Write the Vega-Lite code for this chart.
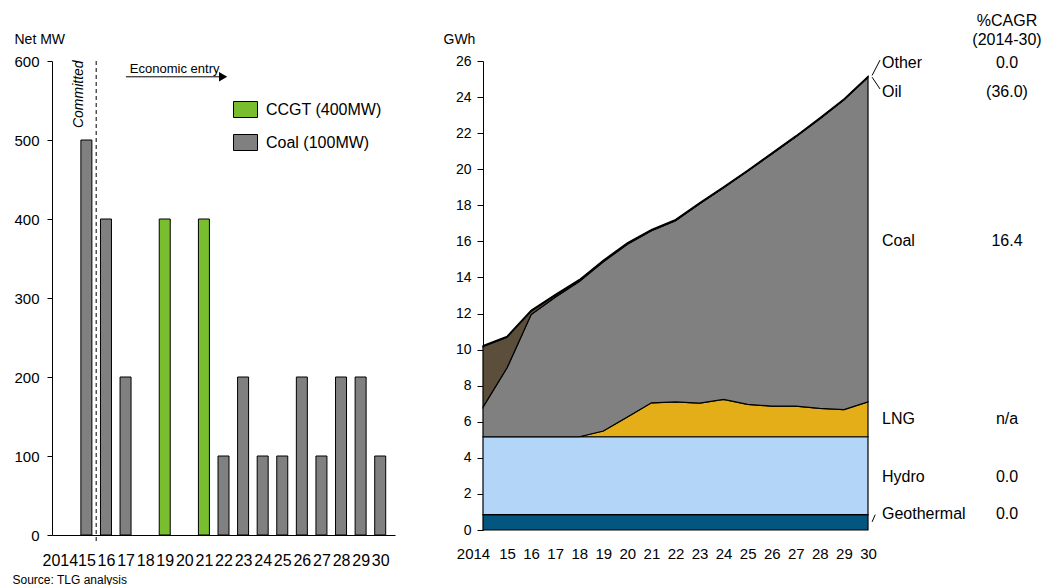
{
  "$schema": "https://vega.github.io/schema/vega-lite/v6.json",
  "padding": {"left": 12, "top": 13, "right": 0, "bottom": 0},
  "background": "white",
  "spacing": 48,
  "resolve": {"scale": {"color": "independent"}},
  "config": {
    "font": "Liberation Sans",
    "view": {"stroke": null},
    "axis": {
      "labelColor": "black", "titleColor": "black", "domainColor": "black", "tickColor": "black",
      "labelFont": "Liberation Sans", "titleFont": "Liberation Sans",
      "labelFontSize": 14, "titleFontSize": 14, "titleFontWeight": "normal", "grid": false,
      "labelOverlap": false, "labelFlush": false
    },
    "text": {"font": "Liberation Sans", "color": "black"}
  },
  "datasets": {
    "bars": [
      {"year": 2015, "type": "Coal (100MW)", "mw": 500},
      {"year": 2016, "type": "Coal (100MW)", "mw": 400},
      {"year": 2017, "type": "Coal (100MW)", "mw": 200},
      {"year": 2019, "type": "CCGT (400MW)", "mw": 400},
      {"year": 2021, "type": "CCGT (400MW)", "mw": 400},
      {"year": 2022, "type": "Coal (100MW)", "mw": 100},
      {"year": 2023, "type": "Coal (100MW)", "mw": 200},
      {"year": 2024, "type": "Coal (100MW)", "mw": 100},
      {"year": 2025, "type": "Coal (100MW)", "mw": 100},
      {"year": 2026, "type": "Coal (100MW)", "mw": 200},
      {"year": 2027, "type": "Coal (100MW)", "mw": 100},
      {"year": 2028, "type": "Coal (100MW)", "mw": 200},
      {"year": 2029, "type": "Coal (100MW)", "mw": 200},
      {"year": 2030, "type": "Coal (100MW)", "mw": 100}
    ],
    "energy": [
      {"year": 2014, "Geothermal": 0.85, "Hydro": 4.32, "LNG": 0, "Coal": 1.64, "Oil": 3.36, "Other": 0.05},
      {"year": 2015, "Geothermal": 0.85, "Hydro": 4.32, "LNG": 0, "Coal": 3.82, "Oil": 1.70, "Other": 0.05},
      {"year": 2016, "Geothermal": 0.85, "Hydro": 4.32, "LNG": 0, "Coal": 6.77, "Oil": 0.19, "Other": 0.05},
      {"year": 2017, "Geothermal": 0.85, "Hydro": 4.32, "LNG": 0, "Coal": 7.73, "Oil": 0.10, "Other": 0.05},
      {"year": 2018, "Geothermal": 0.85, "Hydro": 4.32, "LNG": 0, "Coal": 8.60, "Oil": 0.06, "Other": 0.05},
      {"year": 2019, "Geothermal": 0.85, "Hydro": 4.32, "LNG": 0.32, "Coal": 9.38, "Oil": 0.04, "Other": 0.05},
      {"year": 2020, "Geothermal": 0.85, "Hydro": 4.32, "LNG": 1.09, "Coal": 9.58, "Oil": 0.03, "Other": 0.05},
      {"year": 2021, "Geothermal": 0.85, "Hydro": 4.32, "LNG": 1.88, "Coal": 9.54, "Oil": 0.02, "Other": 0.05},
      {"year": 2022, "Geothermal": 0.85, "Hydro": 4.32, "LNG": 1.93, "Coal": 10.05, "Oil": 0.01, "Other": 0.05},
      {"year": 2023, "Geothermal": 0.85, "Hydro": 4.32, "LNG": 1.86, "Coal": 11.05, "Oil": 0.01, "Other": 0.05},
      {"year": 2024, "Geothermal": 0.85, "Hydro": 4.32, "LNG": 2.07, "Coal": 11.73, "Oil": 0.01, "Other": 0.05},
      {"year": 2025, "Geothermal": 0.85, "Hydro": 4.32, "LNG": 1.79, "Coal": 12.94, "Oil": 0, "Other": 0.05},
      {"year": 2026, "Geothermal": 0.85, "Hydro": 4.32, "LNG": 1.70, "Coal": 13.98, "Oil": 0, "Other": 0.05},
      {"year": 2027, "Geothermal": 0.85, "Hydro": 4.32, "LNG": 1.70, "Coal": 14.93, "Oil": 0, "Other": 0.05},
      {"year": 2028, "Geothermal": 0.85, "Hydro": 4.32, "LNG": 1.57, "Coal": 16.06, "Oil": 0, "Other": 0.05},
      {"year": 2029, "Geothermal": 0.85, "Hydro": 4.32, "LNG": 1.50, "Coal": 17.18, "Oil": 0, "Other": 0.05},
      {"year": 2030, "Geothermal": 0.85, "Hydro": 4.32, "LNG": 1.93, "Coal": 18.00, "Oil": 0, "Other": 0.05}
    ],
    "labels": [
      {"label": "Other", "cagr": "0.0", "gy": 25.89},
      {"label": "Oil", "cagr": "(36.0)", "gy": 24.28},
      {"label": "Coal", "cagr": "16.4", "gy": 16.02},
      {"label": "LNG", "cagr": "n/a", "gy": 6.15},
      {"label": "Hydro", "cagr": "0.0", "gy": 2.94},
      {"label": "Geothermal", "cagr": "0.0", "gy": 0.89}
    ],
    "header": [
      {"text": "%CAGR", "gy": 28.2},
      {"text": "(2014-30)", "gy": 27.15}
    ],
    "leaders": [
      {"x1": 2030.17, "y1": 25.2, "x2": 2030.5, "y2": 26.05},
      {"x1": 2030.17, "y1": 25.1, "x2": 2030.5, "y2": 24.45},
      {"x1": 2030.17, "y1": 0.45, "x2": 2030.3, "y2": 0.85}
    ]
  },
  "hconcat": [
    {
      "width": 343,
      "height": 474,
      "resolve": {"axis": {"x": "independent", "y": "independent"}},
      "layer": [
        {
          "data": {"name": "bars"},
          "mark": {"type": "bar", "width": 11, "stroke": "black", "strokeWidth": 1},
          "encoding": {
            "x": {
              "field": "year", "type": "quantitative",
              "scale": {"domain": [2013.5, 2030.5], "nice": false, "zero": false},
              "axis": {
                "orient": "bottom",
                "values": [2014, 2015, 2016, 2017, 2018, 2019, 2020, 2021, 2022, 2023, 2024, 2025, 2026, 2027, 2028, 2029, 2030],
                "labelExpr": "datum.value == 2014 ? '2014' : substring(toString(datum.value), 2)",
                "ticks": false, "domain": true, "labelPadding": 17,
                "labelFontSize": 16,
                "labelOffset": {"condition": {"test": "datum.value == 2014", "value": -7}, "value": 0},
                "title": "Source: TLG analysis", "titleX": -40, "titleY": 48, "titleAlign": "left",
                "titleBaseline": "alphabetic", "titleFontSize": 12
              }
            },
            "y": {
              "field": "mw", "type": "quantitative",
              "scale": {"domain": [0, 600], "nice": false},
              "axis": {
                "orient": "left",
                "values": [0, 100, 200, 300, 400, 500, 600],
                "labelFontSize": 15,
                "title": "Net MW", "titleAngle": 0, "titleX": -38, "titleY": -18, "titleAlign": "left",
                "titleBaseline": "alphabetic", "tickSize": 5, "labelPadding": 8
              }
            },
            "color": {
              "field": "type", "type": "nominal",
              "scale": {"domain": ["CCGT (400MW)", "Coal (100MW)"], "range": ["#78BE2E", "#808080"]},
              "legend": {
                "orient": "none", "legendX": 185, "legendY": 40, "title": null, "padding": 0,
                "symbolType": "M-1.5,-1H1.5V1H-1.5Z", "symbolSize": 256,
                "symbolStrokeColor": "black", "symbolStrokeWidth": 1, "symbolOpacity": 1,
                "labelFontSize": 16, "labelOffset": 12, "rowPadding": 12, "labelColor": "black",
                "labelFont": "Liberation Sans"
              }
            }
          }
        },
        {
          "data": {"values": [{}]},
          "mark": {"type": "rule", "color": "black", "strokeWidth": 1, "strokeDash": [4, 3]},
          "encoding": {
            "x": {"datum": 2015.5, "type": "quantitative", "axis": null},
            "y": {"datum": 600, "type": "quantitative", "axis": null},
            "y2": {"datum": -11}
          }
        },
        {
          "data": {"values": [{"t": "Committed"}]},
          "mark": {"type": "text", "angle": 270, "fontStyle": "italic", "fontSize": 14, "align": "center", "baseline": "middle"},
          "encoding": {
            "x": {"datum": 2014.62, "type": "quantitative", "axis": null},
            "y": {"datum": 558, "type": "quantitative", "axis": null},
            "text": {"field": "t"}
          }
        },
        {
          "data": {"values": [{"t": "Economic entry"}]},
          "mark": {"type": "text", "fontSize": 13, "align": "left", "baseline": "middle"},
          "encoding": {
            "x": {"datum": 2017.22, "type": "quantitative", "axis": null},
            "y": {"datum": 590, "type": "quantitative", "axis": null},
            "text": {"field": "t"}
          }
        },
        {
          "data": {"values": [{}]},
          "mark": {"type": "rule", "color": "black", "strokeWidth": 1},
          "encoding": {
            "x": {"datum": 2017.02, "type": "quantitative", "axis": null},
            "x2": {"datum": 2021.8},
            "y": {"datum": 580, "type": "quantitative", "axis": null}
          }
        },
        {
          "data": {"values": [{}]},
          "mark": {"type": "point", "shape": "triangle-right", "filled": true, "color": "black", "size": 90, "opacity": 1},
          "encoding": {
            "x": {"datum": 2021.98, "type": "quantitative", "axis": null},
            "y": {"datum": 580, "type": "quantitative", "axis": null}
          }
        }
      ]
    },
    {
      "width": 385,
      "height": 469,
      "resolve": {"axis": {"x": "independent", "y": "independent"}},
      "layer": [
        {
          "data": {"name": "energy"},
          "transform": [
            {"fold": ["Geothermal", "Hydro", "LNG", "Coal", "Oil", "Other"], "as": ["source", "gwh"]},
            {"window": [{"op": "row_number", "as": "rank"}], "groupby": ["year"]}
          ],
          "mark": {"type": "area", "stroke": "black", "strokeWidth": 1.2, "interpolate": "linear", "opacity": 1},
          "encoding": {
            "x": {
              "field": "year", "type": "quantitative",
              "scale": {"domain": [2014, 2030], "nice": false, "zero": false},
              "axis": {
                "orient": "bottom",
                "values": [2014, 2015, 2016, 2017, 2018, 2019, 2020, 2021, 2022, 2023, 2024, 2025, 2026, 2027, 2028, 2029, 2030],
                "labelExpr": "datum.value == 2014 ? '2014' : substring(toString(datum.value), 2)",
                "ticks": false, "domain": false, "labelPadding": 16,
                "labelFontSize": 15,
                "labelOffset": {"condition": {"test": "datum.value == 2014", "value": -10}, "value": 0},
                "title": null
              }
            },
            "y": {
              "field": "gwh", "type": "quantitative", "stack": "zero",
              "scale": {"domain": [0, 26], "nice": false},
              "axis": {
                "orient": "left",
                "values": [0, 2, 4, 6, 8, 10, 12, 14, 16, 18, 20, 22, 24, 26],
                "title": "GWh", "titleAngle": 0, "titleX": -40, "titleY": -18, "titleAlign": "left",
                "titleBaseline": "alphabetic", "tickSize": 6, "labelPadding": 6
              }
            },
            "order": {"field": "rank", "type": "quantitative", "sort": "ascending"},
            "color": {
              "field": "source", "type": "nominal",
              "scale": {
                "domain": ["Geothermal", "Hydro", "LNG", "Coal", "Oil", "Other"],
                "range": ["#03567F", "#B3D6F8", "#E3AE18", "#808080", "#5B4E3B", "#D8B020"]
              },
              "legend": null
            }
          }
        },
        {
          "data": {"name": "leaders"},
          "mark": {"type": "rule", "color": "black", "strokeWidth": 1},
          "encoding": {
            "x": {"field": "x1", "type": "quantitative", "axis": null},
            "x2": {"field": "x2"},
            "y": {"field": "y1", "type": "quantitative", "axis": null},
            "y2": {"field": "y2"}
          }
        },
        {
          "data": {"name": "labels"},
          "mark": {"type": "text", "align": "left", "baseline": "middle", "dx": 14, "fontSize": 16},
          "encoding": {
            "x": {"datum": 2030, "type": "quantitative", "axis": null},
            "y": {"field": "gy", "type": "quantitative", "axis": null},
            "text": {"field": "label"}
          }
        },
        {
          "data": {"name": "labels"},
          "mark": {"type": "text", "align": "center", "baseline": "middle", "dx": 139, "fontSize": 16},
          "encoding": {
            "x": {"datum": 2030, "type": "quantitative", "axis": null},
            "y": {"field": "gy", "type": "quantitative", "axis": null},
            "text": {"field": "cagr"}
          }
        },
        {
          "data": {"name": "header"},
          "mark": {"type": "text", "align": "center", "baseline": "middle", "dx": 139, "fontSize": 16},
          "encoding": {
            "x": {"datum": 2030, "type": "quantitative", "axis": null},
            "y": {"field": "gy", "type": "quantitative", "axis": null},
            "text": {"field": "text"}
          }
        }
      ]
    }
  ]
}
